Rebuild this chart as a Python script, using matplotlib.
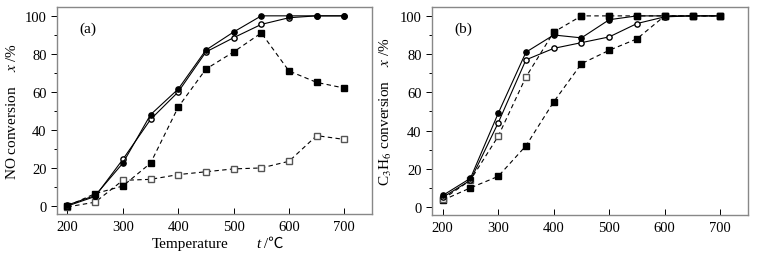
import numpy as np
import matplotlib
matplotlib.use('Agg')
import matplotlib.pyplot as plt
from matplotlib.ticker import MultipleLocator

plt.rcParams['font.family'] = ['Liberation Serif', 'Noto Sans CJK SC', 'DejaVu Sans']
plt.rcParams['mathtext.fontset'] = 'stix'

# 온도
temps = [200, 250, 300, 350, 400, 450, 500, 550, 600, 650, 700]

# (a) NO conversion
a_filled_circle = [0.5, 5.5, 22.5, 48, 61.5, 82, 91.5, 100, 100, 100, 100]
a_open_circle = [0, 5, 24.5, 45.5, 60, 81, 88.5, 95.5, 99, 100, 100]
a_filled_square = [0, 6.5, 10.5, 22.5, 52, 72, 81, 91, 71, 65, 62]
a_open_square = [-0.5, 2, 13.5, 14, 16.5, 18, 19.5, 20, 23.5, 37, 35]

# (b) C3H6 conversion
b_filled_circle = [6, 15, 49, 81, 90, 88.5, 98, 100, 100, 100, 100]
b_open_circle = [5, 14, 44, 77, 83, 86, 89, 96, 99.5, 100, 100]
b_open_square = [4, 14, 37, 68, 91.5, 100, 100, 100, 100, 100, 100]
b_filled_square = [3.5, 10, 16, 32, 55, 75, 82, 88, 100, 100, 100]

fig = plt.figure(figsize=(7.8, 2.55), dpi=100)
ax1 = fig.add_axes([0.073, 0.157, 0.404, 0.812])
ax2 = fig.add_axes([0.554, 0.153, 0.405, 0.816])

gray = '#888888'
ms = 3.8
lw = 0.8

def style(ax):
    ax.set_xlim(181, 750)
    ax.set_ylim(-4.2, 104.7)
    ax.xaxis.set_major_locator(MultipleLocator(100))
    ax.yaxis.set_major_locator(MultipleLocator(20))
    ax.yaxis.set_minor_locator(MultipleLocator(10))
    ax.tick_params(axis='x', direction='in', length=4, width=0.7, color='k', labelsize=10.5, pad=4)
    ax.tick_params(axis='y', which='major', direction='out', length=4, width=0.7, labelsize=10.5)
    ax.tick_params(axis='y', which='minor', direction='out', length=2, width=0.7)
    for s in ax.spines.values():
        s.set_color(gray)
        s.set_linewidth(1.0)

# (a)
ax1.plot(temps, a_open_square, 's--', color='k', mfc='white', mec='#555555', ms=ms, lw=lw, dashes=(4, 3))
ax1.plot(temps, a_filled_square, 's--', color='k', mfc='k', ms=ms, lw=lw, dashes=(4, 3))
ax1.plot(temps, a_open_circle, 'o-', color='k', mfc='white', ms=ms, lw=lw)
ax1.plot(temps, a_filled_circle, 'o-', color='k', mfc='k', ms=ms, lw=lw)
style(ax1)
ax1.text(0.07, 0.88, '(a)', transform=ax1.transAxes, fontsize=11)
ax1.set_ylabel('NO conversion    $x$ /%', fontsize=11, labelpad=4)

# x축 라벨 (℃ 글리프 때문에 조각으로 나눔)
t1 = ax1.text(0.3, -0.16, 'Temperature', transform=ax1.transAxes, fontsize=11, va='baseline')
t2 = ax1.annotate('t', xy=(1, 0), xycoords=t1, xytext=(20, 0), textcoords='offset points',
                  fontsize=11, style='italic', va='bottom')
ax1.annotate(' /℃', xy=(1, 0), xycoords=t2, fontsize=11, va='bottom')

# (b)
ax2.plot(temps, b_filled_square, 's--', color='k', mfc='k', ms=ms, lw=lw, dashes=(4, 3))
ax2.plot(temps, b_open_square, 's--', color='k', mfc='white', mec='#555555', ms=ms, lw=lw, dashes=(4, 3))
ax2.plot(temps[4:], b_open_square[4:], 's', color='k', ms=ms)
ax2.plot(temps, b_open_circle, 'o-', color='k', mfc='white', ms=ms, lw=lw)
ax2.plot(temps, b_filled_circle, 'o-', color='k', mfc='k', ms=ms, lw=lw)
style(ax2)
ax2.text(0.07, 0.88, '(b)', transform=ax2.transAxes, fontsize=11)
ax2.set_ylabel('C$_3$H$_6$ conversion    $x$ /%', fontsize=11, labelpad=4)

fig.savefig('out.png', dpi=100)
